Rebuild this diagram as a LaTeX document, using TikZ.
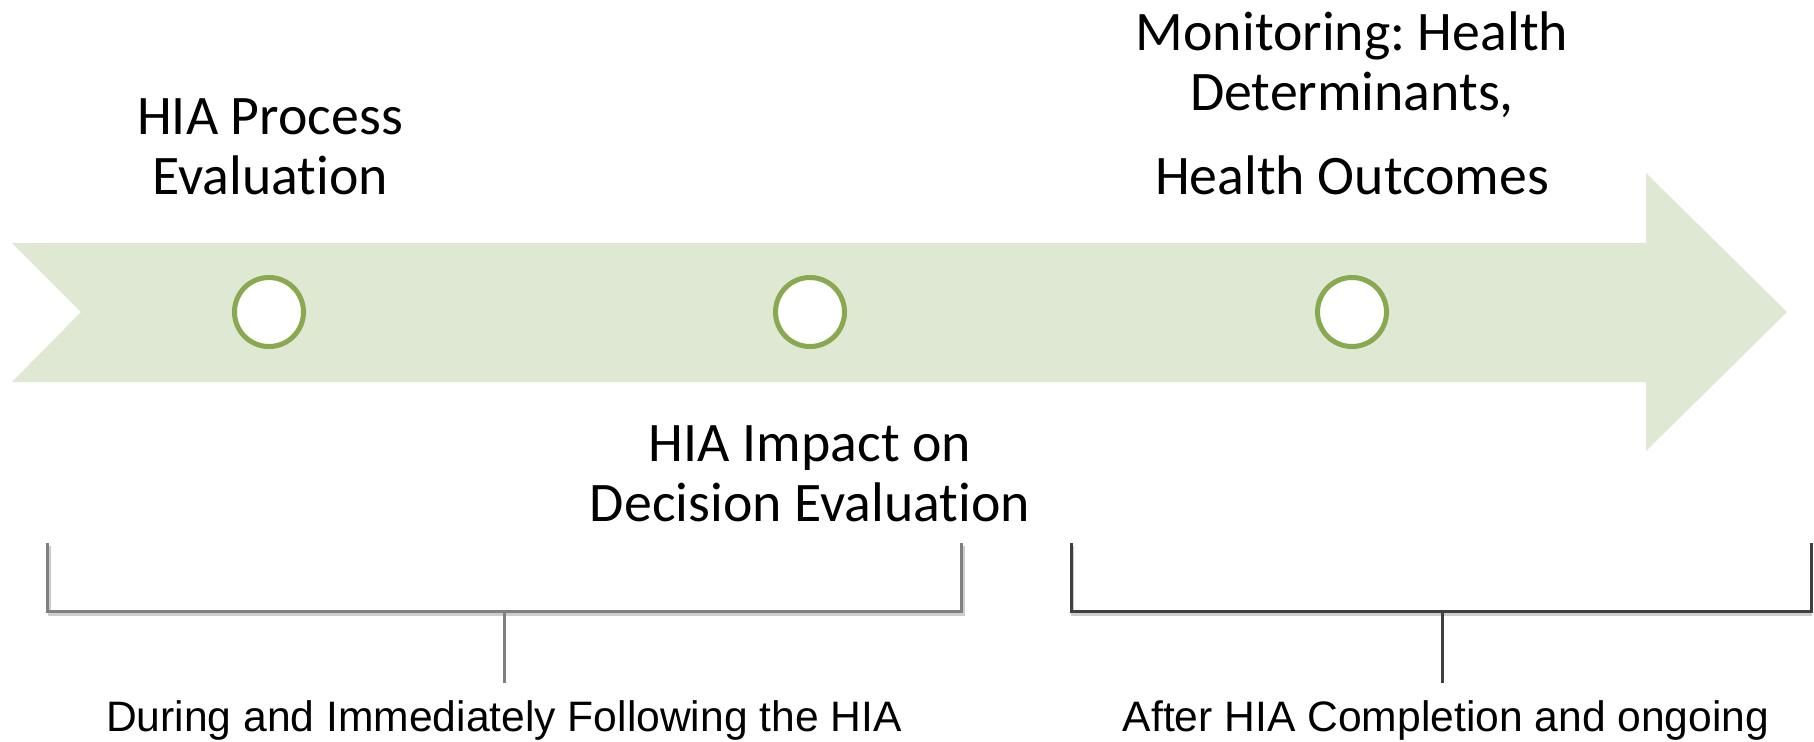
\documentclass[tikz,border=0pt]{standalone}
\usepackage{fontspec}
\setmainfont{Carlito}[Ligatures=NoCommon]
\newfontfamily\arialfont{Liberation Sans}
\definecolor{arrowfill}{RGB}{222,232,210}
\definecolor{dotgreen}{RGB}{137,168,79}
\definecolor{brkA}{RGB}{128,128,128}
\definecolor{brkB}{RGB}{64,64,64}
\definecolor{brkshadow}{RGB}{205,205,205}
\frenchspacing
\begin{document}
\begin{tikzpicture}[x=0.5pt,y=-0.5pt,
  lbl/.style={font=\fontsize{27.9pt}{30pt}\selectfont, align=center, inner sep=0pt, anchor=base},
  sublbl/.style={font=\arialfont\fontsize{21.3pt}{24pt}\selectfont, inner sep=0pt, anchor=base},
  dot/.style={circle, draw=dotgreen, line width=2.5pt, fill=white, minimum size=34.5pt, inner sep=0pt},
  brkline/.style={line width=1.5pt, line join=miter},
  brkshad/.style={line width=1.5pt, draw=brkshadow, line join=miter}
]
\useasboundingbox (0,0) rectangle (1814,741);
% timeline arrow
\fill[arrowfill] (12,243) -- (1646,243) -- (1646,173) -- (1787,312) -- (1646,451)
  -- (1646,382) -- (12,382) -- (81,312) -- cycle;
% milestones
\node[dot] (c1) at (269,312) {};
\node[dot] (c2) at (810,312) {};
\node[dot] (c3) at (1352,312) {};
% labels (anchored at the baseline of their last line)
\node[lbl] (t1) at (270,194) {HIA Process\\Evaluation};
\node[lbl] (t2) at (810,521) {HIA Impact on\\Decision Evaluation};
\node[lbl] (t3) at (1352,194) {Monitoring: Health\\Determinants,\\[12pt]Health Outcomes};
% bracket 1
\coordinate (a1) at (47,543);
\coordinate (a2) at (47,611);
\coordinate (a3) at (961,611);
\coordinate (a4) at (961,543);
\coordinate (am) at (504,611);
\coordinate (ab) at (504,683);
\draw[brkshad] ([shift={(2,3)}]a1) -- ([shift={(2,3)}]a2) -- ([shift={(2,3)}]a3) -- ([shift={(2,3)}]a4);
\draw[brkline, draw=brkA] (a1) -- (a2) -- (a3) -- (a4);
\draw[brkline, draw=brkA] (am) -- (ab);
% bracket 2
\coordinate (d1) at (1071,543);
\coordinate (d2) at (1071,611);
\coordinate (d3) at (1811,611);
\coordinate (d4) at (1811,543);
\coordinate (dm) at (1442,611);
\coordinate (db) at (1442,683);
\draw[brkshad] ([shift={(1,3)}]d1) -- ([shift={(1,3)}]d2) -- ([shift={(1,3)}]d3);
\draw[brkline, draw=brkB] (d1) -- (d2) -- (d3) -- (d4);
\draw[brkline, draw=brkB] (dm) -- (db);
% bottom labels
\node[sublbl] (b1) at (504,731) {During and Immediately Following the HIA};
\node[sublbl] (b2) at (1446,731) {After HIA Completion and ongoing};
\end{tikzpicture}
\end{document}
